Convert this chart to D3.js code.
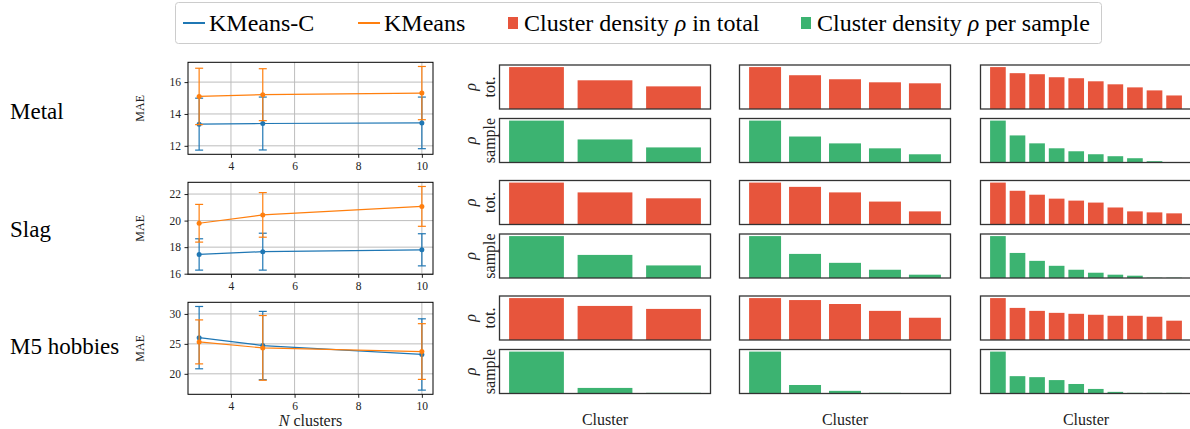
<!DOCTYPE html>
<html>
<head>
<meta charset="utf-8">
<script src="https://cdn.jsdelivr.net/npm/d3@7"></script>
<style>
  html, body { margin: 0; padding: 0; background: #fff; }
  svg, svg text { font-family: 'Liberation Serif', 'Times New Roman', Times, 'DejaVu Serif', serif; }
</style>
</head>
<body>
<div id="chart"></div>
<script>
// datasets (rows) and cluster counts
const rowNames = ['Metal', 'Slag', 'M5 hobbies'];
const nClusters = [3, 5, 10];
const xTicks = [4, 6, 8, 10];
const yTicks = [[12, 14, 16], [16, 18, 20, 22], [20, 25, 30]];

// MAE mean and spread, one array per row
const kmeansCMae = [[13.36, 13.40, 13.44], [17.45, 17.66, 17.80], [26.04, 24.72, 23.23]];
const kmeansCStd = [[1.63, 1.66, 1.62], [1.18, 1.39, 1.21], [5.20, 5.70, 5.95]];
const kmeansMae = [[15.10, 15.21, 15.31], [19.80, 20.43, 21.07], [25.33, 24.33, 23.72]];
const kmeansStd = [[1.77, 1.63, 1.67], [1.42, 1.68, 1.50], [3.67, 5.40, 4.65]];

// cluster density (relative), [row][column][cluster]
const densityTotal = [
  [
    [1, 0.685, 0.54],
    [1, 0.806, 0.71, 0.637, 0.613],
    [1, 0.855, 0.83, 0.758, 0.734, 0.661, 0.589, 0.516, 0.444, 0.323],
  ],
  [
    [1, 0.766, 0.625],
    [1, 0.898, 0.766, 0.547, 0.313],
    [1, 0.805, 0.711, 0.617, 0.57, 0.523, 0.406, 0.313, 0.289, 0.266],
  ],
  [
    [1, 0.813, 0.742],
    [1, 0.953, 0.859, 0.695, 0.531],
    [1, 0.766, 0.695, 0.648, 0.625, 0.602, 0.578, 0.578, 0.555, 0.461],
  ],
];
const densitySample = [
  [
    [1, 0.55, 0.36],
    [1, 0.62, 0.456, 0.338, 0.196],
    [1, 0.646, 0.457, 0.339, 0.268, 0.197, 0.15, 0.102, 0.031, 0.008],
  ],
  [
    [1, 0.551, 0.3],
    [1, 0.575, 0.362, 0.197, 0.079],
    [1, 0.598, 0.409, 0.291, 0.197, 0.126, 0.079, 0.055, 0.008, 0.008],
  ],
  [
    [1, 0.133, 0.016],
    [1, 0.203, 0.063, 0.016, 0.01],
    [1, 0.414, 0.39, 0.32, 0.227, 0.109, 0.039, 0.016, 0.016, 0.016],
  ],
];

const blue = '#1f77b4';
const orange = '#ff7f0e';
const red = '#e7553c';
const green = '#3cb371';
const ink = '#222';
const serif = "'Liberation Serif', 'Times New Roman', Times, 'DejaVu Serif', serif";

const width = 1190;
const height = 429;

const svg = d3
  .select('#chart')
  .append('svg')
  .attr('width', width)
  .attr('height', height)
  .attr('font-family', serif);

svg.append('rect').attr('width', width).attr('height', height).attr('fill', '#fff');

// ---------- legend ----------
const legend = svg.append('g');
legend
  .append('rect')
  .attr('x', 175.5)
  .attr('y', 2.5)
  .attr('width', 926)
  .attr('height', 41)
  .attr('rx', 3)
  .attr('fill', '#fff')
  .attr('stroke', '#ccc');

const legendItems = [
  { kind: 'line', color: blue, x: 183, label: ['KMeans-C'] },
  { kind: 'line', color: orange, x: 358, label: ['KMeans'] },
  { kind: 'rect', color: red, x: 508, label: ['Cluster density ', 'ρ', ' in total'] },
  { kind: 'rect', color: green, x: 801, label: ['Cluster density ', 'ρ', ' per sample'] },
];

legendItems.forEach((d) => {
  if (d.kind === 'line') {
    legend
      .append('line')
      .attr('x1', d.x)
      .attr('x2', d.x + 22)
      .attr('y1', 23)
      .attr('y2', 23)
      .attr('stroke', d.color)
      .attr('stroke-width', 2);
  } else {
    legend
      .append('rect')
      .attr('x', d.x)
      .attr('y', 17)
      .attr('width', 10)
      .attr('height', 12)
      .attr('fill', d.color);
  }
  const t = legend
    .append('text')
    .attr('x', d.kind === 'line' ? d.x + 26 : d.x + 16)
    .attr('y', 31)
    .attr('font-family', serif)
    .style('font-size', '24px')
    .attr('fill', '#000');
  d.label.forEach((s, i) => {
    t.append('tspan')
      .style('font-style', i === 1 ? 'italic' : 'normal')
      .text(s);
  });
});

// ---------- line charts ----------
const lineLeft = 188;
const lineWidth = 245;
const lineTops = [62.3, 182.3, 302.3];
const lineHeight = 92;
const rowLabelBase = [119, 236.5, 353.5];

const x = d3
  .scaleLinear()
  .domain([3 - 0.05 * 7, 10 + 0.05 * 7])
  .range([0, lineWidth]);

rowNames.forEach((name, r) => {
  svg
    .append('text')
    .attr('x', 10)
    .attr('y', rowLabelBase[r])
    .attr('font-family', serif)
    .style('font-size', '23px')
    .attr('fill', '#000')
    .text(name);

  const g = svg
    .append('g')
    .attr('transform', 'translate(' + lineLeft + ',' + lineTops[r] + ')');

  const series = [
    { mae: kmeansCMae[r], std: kmeansCStd[r], color: blue },
    { mae: kmeansMae[r], std: kmeansStd[r], color: orange },
  ];
  const lo = d3.min(series, (s) => d3.min(s.mae, (m, i) => m - s.std[i]));
  const hi = d3.max(series, (s) => d3.max(s.mae, (m, i) => m + s.std[i]));
  const pad = (hi - lo) * 0.05;
  const y = d3.scaleLinear().domain([lo - pad, hi + pad]).range([lineHeight, 0]);

  // grid
  g.selectAll('.gx')
    .data(xTicks)
    .enter()
    .append('line')
    .attr('x1', (d) => x(d))
    .attr('x2', (d) => x(d))
    .attr('y1', 0)
    .attr('y2', lineHeight)
    .attr('stroke', '#bdbdbd')
    .attr('stroke-width', 1);
  g.selectAll('.gy')
    .data(yTicks[r])
    .enter()
    .append('line')
    .attr('x1', 0)
    .attr('x2', lineWidth)
    .attr('y1', (d) => y(d))
    .attr('y2', (d) => y(d))
    .attr('stroke', '#bdbdbd')
    .attr('stroke-width', 1);

  series.forEach((s) => {
    const pts = nClusters.map((n, i) => ({ n, m: s.mae[i], e: s.std[i] }));
    const eb = g.append('g').attr('stroke', s.color).attr('stroke-width', 1.2);
    pts.forEach((p) => {
      eb.append('line')
        .attr('x1', x(p.n))
        .attr('x2', x(p.n))
        .attr('y1', y(p.m - p.e))
        .attr('y2', y(p.m + p.e));
      [p.m - p.e, p.m + p.e].forEach((v) => {
        eb.append('line')
          .attr('x1', x(p.n) - 4)
          .attr('x2', x(p.n) + 4)
          .attr('y1', y(v))
          .attr('y2', y(v));
      });
    });
    g.append('path')
      .datum(pts)
      .attr('fill', 'none')
      .attr('stroke', s.color)
      .attr('stroke-width', 1.2)
      .attr(
        'd',
        d3
          .line()
          .x((d) => x(d.n))
          .y((d) => y(d.m))
      );
    g.selectAll(null)
      .data(pts)
      .enter()
      .append('circle')
      .attr('cx', (d) => x(d.n))
      .attr('cy', (d) => y(d.m))
      .attr('r', 2.5)
      .attr('fill', s.color);
  });

  const xAxis = g
    .append('g')
    .attr('transform', 'translate(0,' + lineHeight + ')')
    .call(
      d3.axisBottom(x).tickValues(xTicks).tickFormat(d3.format('d')).tickSize(3.5).tickPadding(4)
    );
  const yAxis = g
    .append('g')
    .call(
      d3.axisLeft(y).tickValues(yTicks[r]).tickFormat(d3.format('d')).tickSize(3.5).tickPadding(3.5)
    );
  [xAxis, yAxis].forEach((a) => {
    a.attr('font-family', serif);
    a.select('.domain').remove();
    a.selectAll('line').attr('stroke', ink);
    a.selectAll('text')
      .attr('fill', ink)
      .style('font-size', '11.5px')
      .style('font-family', serif);
  });

  g.append('rect')
    .attr('width', lineWidth)
    .attr('height', lineHeight)
    .attr('fill', 'none')
    .attr('stroke', '#000')
    .attr('stroke-width', 1);

  g.append('text')
    .attr('transform', 'translate(-44,' + lineHeight / 2 + ') rotate(-90)')
    .style('text-anchor', 'middle')
    .attr('font-family', serif)
    .style('font-size', '12px')
    .attr('fill', ink)
    .text('MAE');
});

const xLabel = svg
  .append('text')
  .attr('x', lineLeft + lineWidth / 2)
  .attr('y', 426)
  .style('text-anchor', 'middle')
  .attr('font-family', serif)
  .style('font-size', '16px')
  .attr('fill', ink);
xLabel.append('tspan').style('font-style', 'italic').text('N');
xLabel.append('tspan').text(' clusters');

// ---------- density bars ----------
const barLefts = [499.5, 739.5, 980.5];
const panelWidth = 211;
const barTops = [65, 180.5, 296];
const panelHeight = 44;
const panelGap = 9.5;

const drawPanel = (left, top, values, color) => {
  const n = values.length;
  const bx = d3
    .scaleBand()
    .domain(d3.range(n))
    .range([0, panelWidth])
    .paddingInner(0.2)
    .paddingOuter(0.05 * (n - 0.2));
  const by = d3
    .scaleLinear()
    .domain([0, d3.max(values) * 1.05])
    .range([panelHeight, 0]);
  const g = svg.append('g').attr('transform', 'translate(' + left + ',' + top + ')');
  g.selectAll('.bar')
    .data(values)
    .enter()
    .append('rect')
    .attr('class', 'bar')
    .attr('x', (d, i) => bx(i))
    .attr('width', bx.bandwidth())
    .attr('y', (d) => by(d))
    .attr('height', (d) => panelHeight - by(d))
    .attr('fill', color);
  g.append('rect')
    .attr('width', panelWidth)
    .attr('height', panelHeight)
    .attr('fill', 'none')
    .attr('stroke', '#333')
    .attr('stroke-width', 1.3);
};

const rhoLabel = (cx, cy, second) => {
  const t = svg
    .append('text')
    .attr('transform', 'translate(' + cx + ',' + cy + ') rotate(-90)')
    .style('text-anchor', 'middle')
    .attr('font-family', serif)
    .style('font-size', '16px')
    .attr('fill', ink);
  t.append('tspan').attr('x', 0).attr('y', -19).style('font-style', 'italic').text('ρ');
  t.append('tspan').attr('x', 0).attr('y', 0).text(second);
};

rowNames.forEach((name, r) => {
  barLefts.forEach((left, c) => {
    drawPanel(left, barTops[r], densityTotal[r][c], red);
    drawPanel(left, barTops[r] + panelHeight + panelGap, densitySample[r][c], green);
  });
  rhoLabel(495, barTops[r] + panelHeight / 2, 'tot.');
  rhoLabel(495, barTops[r] + panelHeight + panelGap + panelHeight / 2, 'sample');
});

barLefts.forEach((left) => {
  svg
    .append('text')
    .attr('x', left + panelWidth / 2)
    .attr('y', 425)
    .style('text-anchor', 'middle')
    .attr('font-family', serif)
    .style('font-size', '16px')
    .attr('fill', ink)
    .text('Cluster');
});
</script>
</body>
</html>
